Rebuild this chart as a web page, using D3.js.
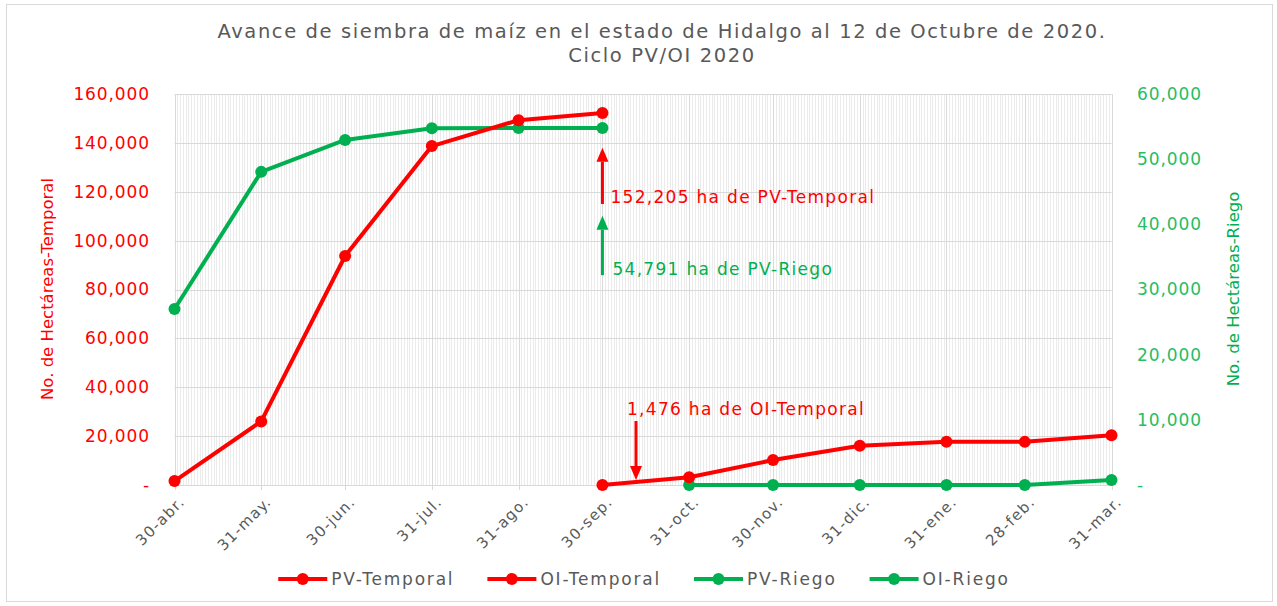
<!DOCTYPE html>
<html>
<head>
<meta charset="utf-8">
<script src="https://cdn.jsdelivr.net/npm/d3@7"></script>
<style>
  body { margin: 0; background: #fff; }
  text { font-family: "DejaVu Sans", sans-serif; }
</style>
</head>
<body>
<svg id="chart" width="1277" height="606"></svg>
<script>
// month-end dates shown on the axis
var tickDates = ['2020-04-30', '2020-05-31', '2020-06-30', '2020-07-31', '2020-08-31', '2020-09-30',
                 '2020-10-31', '2020-11-30', '2020-12-31', '2021-01-31', '2021-02-28', '2021-03-31'];
var tickLabels = ['30-abr.', '31-may.', '30-jun.', '31-jul.', '31-ago.', '30-sep.',
                  '31-oct.', '30-nov.', '31-dic.', '31-ene.', '28-feb.', '31-mar.'];

// PV cycle (abr - sep)
var pvDates = ['2020-04-30', '2020-05-31', '2020-06-30', '2020-07-31', '2020-08-31', '2020-09-30'];
var pvTemporal = [1600, 26000, 93700, 138700, 149300, 152205];
var pvRiego = [27000, 48050, 52950, 54750, 54791, 54791];

// OI cycle (sep - mar)
var oiTemporalDates = ['2020-09-30', '2020-10-31', '2020-11-30', '2020-12-31', '2021-01-31', '2021-02-28', '2021-03-31'];
var oiTemporal = [0, 3150, 10200, 16100, 17700, 17650, 20350];
var oiRiegoDates = ['2020-10-31', '2020-11-30', '2020-12-31', '2021-01-31', '2021-02-28', '2021-03-31'];
var oiRiego = [0, 0, 0, 0, 0, 780];

var leftTicks = [0, 20000, 40000, 60000, 80000, 100000, 120000, 140000, 160000];
var rightTicks = [0, 10000, 20000, 30000, 40000, 50000, 60000];

var seriesNames = ['PV-Temporal', 'OI-Temporal', 'PV-Riego', 'OI-Riego'];

var RED = '#ff0000';
var GREEN = '#00b050';
var GRAY = '#595959';

var parse = d3.timeParse('%Y-%m-%d');
var svg = d3.select('#chart');

// outer chart border
svg.append('rect')
    .attr('x', 6.5).attr('y', 4.5)
    .attr('width', 1266).attr('height', 597)
    .attr('fill', '#fff').attr('stroke', '#d9d9d9');

var x = d3.scaleTime()
    .domain([parse(tickDates[0]), parse(tickDates[tickDates.length - 1])])
    .range([174.5, 1111.5]);
var yL = d3.scaleLinear().domain([0, 160000]).range([485, 94]);
var yR = d3.scaleLinear().domain([0, 60000]).range([485, 94]);

var fmt = function(v) { return v === 0 ? '-' : d3.format(',')(v); };

// minor daily gridlines
svg.append('g').selectAll('line')
    .data(d3.timeDay.range(x.domain()[0], x.domain()[1]))
    .join('line')
    .attr('x1', function(d) { return Math.round(x(d)) + 0.5; })
    .attr('x2', function(d) { return Math.round(x(d)) + 0.5; })
    .attr('y1', yL(160000)).attr('y2', yL(0))
    .attr('stroke', '#ebebeb');

// major gridlines
svg.append('g').selectAll('line')
    .data(leftTicks)
    .join('line')
    .attr('x1', x.range()[0]).attr('x2', x.range()[1])
    .attr('y1', function(d) { return Math.round(yL(d)) + 0.5; })
    .attr('y2', function(d) { return Math.round(yL(d)) + 0.5; })
    .attr('stroke', '#d9d9d9');
svg.append('g').selectAll('line')
    .data(tickDates.map(parse))
    .join('line')
    .attr('x1', function(d) { return Math.round(x(d)) + 0.5; })
    .attr('x2', function(d) { return Math.round(x(d)) + 0.5; })
    .attr('y1', yL(160000)).attr('y2', yL(0) + 5)
    .attr('stroke', '#d9d9d9');

// left axis
var leftAxis = svg.append('g')
    .attr('transform', 'translate(150,0)')
    .call(d3.axisLeft(yL).tickValues(leftTicks).tickFormat(fmt).tickSize(0).tickPadding(0));
leftAxis.select('.domain').remove();
leftAxis.selectAll('text')
    .attr('fill', RED).attr('font-size', 17).attr('letter-spacing', 0.9);

// right axis
var rightAxis = svg.append('g')
    .attr('transform', 'translate(1137,0)')
    .call(d3.axisRight(yR).tickValues(rightTicks).tickFormat(fmt).tickSize(0).tickPadding(0));
rightAxis.select('.domain').remove();
rightAxis.selectAll('text')
    .attr('fill', '#27bd62').attr('font-size', 17).attr('letter-spacing', 0.9);

// bottom axis labels, rotated
var bottomAxis = svg.append('g')
    .attr('transform', 'translate(0,' + yL(0) + ')')
    .call(d3.axisBottom(x).tickValues(tickDates.map(parse))
        .tickFormat(function(d, i) { return tickLabels[i]; }).tickSize(0).tickPadding(0));
bottomAxis.select('.domain').remove();
bottomAxis.selectAll('text')
    .attr('fill', GRAY).attr('font-size', 15).attr('letter-spacing', 1.3)
    .attr('text-anchor', 'end')
    .attr('dy', '0.35em')
    .attr('transform', 'translate(7,14) rotate(-45)');

// axis titles
svg.append('text')
    .attr('transform', 'translate(47,289) rotate(-90)')
    .attr('text-anchor', 'middle').attr('dy', '0.35em')
    .attr('fill', RED).attr('font-size', 16.5)
    .text('No. de Hectáreas-Temporal');
svg.append('text')
    .attr('transform', 'translate(1233,289) rotate(-90)')
    .attr('text-anchor', 'middle').attr('dy', '0.35em')
    .attr('fill', GREEN).attr('font-size', 16.5)
    .text('No. de Hectáreas-Riego');

// title
var title = svg.append('text')
    .attr('x', 662).attr('text-anchor', 'middle')
    .attr('fill', GRAY).attr('font-size', 19.5).attr('letter-spacing', 1.6);
title.append('tspan').attr('x', 662).attr('y', 38)
    .text('Avance de siembra de maíz en el estado de Hidalgo al 12 de Octubre de 2020.');
title.append('tspan').attr('x', 662).attr('y', 62)
    .text('Ciclo PV/OI 2020');

/** Draw one series */
function drawSeries(dates, values, scale, color) {
    var pts = dates.map(function(d, i) { return [x(parse(d)), scale(values[i])]; });
    var g = svg.append('g');
    g.append('path')
        .attr('d', d3.line()(pts))
        .attr('fill', 'none').attr('stroke', color)
        .attr('stroke-width', 4).attr('stroke-linejoin', 'round');
    g.selectAll('circle')
        .data(pts)
        .join('circle')
        .attr('cx', function(p) { return p[0]; })
        .attr('cy', function(p) { return p[1]; })
        .attr('r', 6).attr('fill', color);
}

drawSeries(pvDates, pvRiego, yR, GREEN);
drawSeries(oiRiegoDates, oiRiego, yR, GREEN);
drawSeries(pvDates, pvTemporal, yL, RED);
drawSeries(oiTemporalDates, oiTemporal, yL, RED);

// annotations
var notes = [
    { date: '2020-09-30', from: 115000, to: 138000, scale: yL, color: RED,
      text: '152,205 ha de PV-Temporal', tx: 8, ty: 118000 },
    { date: '2020-09-30', from: 32200, to: 41300, scale: yR, color: GREEN,
      text: '54,791 ha de PV-Riego', tx: 10, ty: 33200 },
    { date: '2020-10-12', from: 26200, to: 2000, scale: yL, color: RED,
      text: '1,476 ha de OI-Temporal', tx: -9, ty: 31000 }
];
notes.forEach(function(n) {
    var ax = x(parse(n.date));
    var y0 = n.scale(n.from), y1 = n.scale(n.to);
    var dir = y1 < y0 ? 1 : -1;
    var head = 14;
    svg.append('line')
        .attr('x1', ax).attr('x2', ax)
        .attr('y1', y0).attr('y2', y1 + dir * head)
        .attr('stroke', n.color).attr('stroke-width', 3);
    svg.append('path')
        .attr('d', 'M' + ax + ',' + y1 + 'L' + (ax - 6) + ',' + (y1 + dir * head) +
                   'L' + (ax + 6) + ',' + (y1 + dir * head) + 'Z')
        .attr('fill', n.color);
    svg.append('text')
        .attr('x', ax + n.tx).attr('y', n.scale(n.ty))
        .attr('dy', '0.35em')
        .attr('fill', n.color).attr('font-size', 17).attr('letter-spacing', 1.3)
        .text(n.text);
});

// legend
var legendColors = [RED, RED, GREEN, GREEN];
var legend = svg.append('g').attr('transform', 'translate(0,579)');
var cx = 0;
var items = [];
seriesNames.forEach(function(name, i) {
    var it = legend.append('g');
    it.append('line').attr('x1', 0).attr('x2', 49)
        .attr('stroke', legendColors[i]).attr('stroke-width', 4);
    it.append('circle').attr('cx', 24.5).attr('r', 6).attr('fill', legendColors[i]);
    var t = it.append('text').attr('x', 53).attr('dy', '0.35em')
        .attr('fill', GRAY).attr('font-size', 17).attr('letter-spacing', 1.8)
        .text(name);
    items.push({ g: it, offset: cx });
    cx += 53 + t.node().getComputedTextLength() + 33;
});
var total = cx - 33;
var start = 644 - total / 2;
items.forEach(function(it) {
    it.g.attr('transform', 'translate(' + (start + it.offset) + ',0)');
});
</script>
</body>
</html>
